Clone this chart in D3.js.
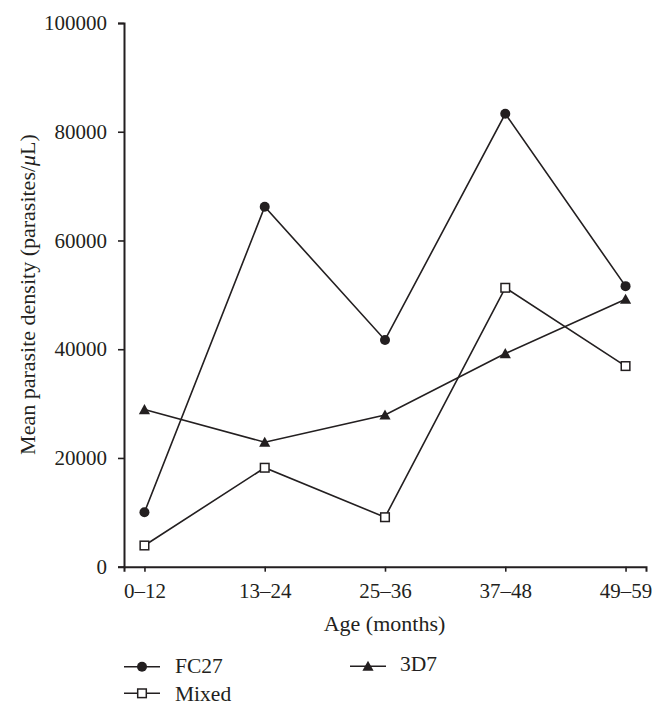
<!DOCTYPE html>
<html>
<head>
<meta charset="utf-8">
<script src="https://cdn.jsdelivr.net/npm/d3@7"></script>
<style>
  html, body { margin: 0; padding: 0; background: #fff; }
  svg { display: block; font-family: "Liberation Serif", "Times New Roman", serif; }
</style>
</head>
<body>
<svg id="chart" width="666" height="715"></svg>
<script>
const categories = ["0–12", "13–24", "25–36", "37–48", "49–59"];
const fc27 = [10000, 66200, 41700, 83300, 51600];
const mixed = [3900, 18200, 9100, 51300, 36900];
const d3d7 = [28900, 22900, 27900, 39200, 49200];
const yTicks = [0, 20000, 40000, 60000, 80000, 100000];
const seriesNames = ["FC27", "Mixed", "3D7"];

const ink = "#231f20";
const svg = d3.select("#chart");

const x = d3.scalePoint().domain(categories).range([124, 646]).padding(0.17);
const y = d3.scaleLinear().domain([0, 100000]).range([566.7, 23]);

// Y axis
const yAxis = svg.append("g").attr("transform", "translate(124,0)")
  .call(d3.axisLeft(y).tickValues(yTicks).tickFormat(d3.format("d")).tickSizeOuter(0).tickSize(6).tickPadding(11));
// X axis
const xAxis = svg.append("g").attr("transform", "translate(0,566.7)")
  .call(d3.axisBottom(x).tickSizeOuter(0).tickSize(5).tickPadding(11));

[yAxis, xAxis].forEach(g => {
  g.selectAll("path.domain").attr("stroke", ink).attr("stroke-width", 2);
  g.selectAll(".tick line").attr("stroke", ink).attr("stroke-width", 1.6);
  g.selectAll(".tick text").attr("fill", ink).style("font-size", "21px")
    .style("font-family", "'Liberation Serif', serif");
});

// Axis titles
svg.append("text")
  .attr("x", 384.5).attr("y", 631)
  .attr("text-anchor", "middle").attr("fill", ink)
  .style("font-size", "22px")
  .text("Age (months)");

const yt = svg.append("text")
  .attr("transform", "translate(35,294.5) rotate(-90)")
  .attr("text-anchor", "middle").attr("fill", ink)
  .style("font-size", "22px");
yt.append("tspan").text("Mean parasite density (parasites/");
yt.append("tspan").style("font-style", "italic").text("μ");
yt.append("tspan").text("L)");

// Series
const series = [
  { name: seriesNames[0], values: fc27, shape: "circle" },
  { name: seriesNames[1], values: mixed, shape: "square" },
  { name: seriesNames[2], values: d3d7, shape: "triangle" }
];

const line = d3.line().x((d, i) => x(categories[i])).y(d => y(d));

function drawMarker(g, shape, cx, cy) {
  if (shape === "circle") {
    g.append("circle").attr("cx", cx).attr("cy", cy).attr("r", 5).attr("fill", ink);
  } else if (shape === "square") {
    g.append("rect").attr("x", cx - 4.3).attr("y", cy - 4.3).attr("width", 8.6).attr("height", 8.6)
      .attr("fill", "#fff").attr("stroke", ink).attr("stroke-width", 1.5);
  } else {
    g.append("path")
      .attr("d", `M${cx},${cy - 5.5} L${cx + 5.6},${cy + 4.6} L${cx - 5.6},${cy + 4.6} Z`)
      .attr("fill", ink);
  }
}

series.forEach(s => {
  svg.append("path").datum(s.values).attr("d", line)
    .attr("fill", "none").attr("stroke", ink).attr("stroke-width", 1.6);
});
series.forEach(s => {
  const g = svg.append("g");
  s.values.forEach((v, i) => drawMarker(g, s.shape, x(categories[i]), y(v)));
});

// Legend
const legendItems = [
  { s: series[0], lx: 124, ly: 666.7, ty: 673.3 },
  { s: series[1], lx: 124, ly: 693.3, ty: 700.7 },
  { s: series[2], lx: 350, ly: 666.2, ty: 670.7 }
];
legendItems.forEach(it => {
  const g = svg.append("g");
  g.append("line").attr("x1", it.lx).attr("x2", it.lx + 36).attr("y1", it.ly).attr("y2", it.ly)
    .attr("stroke", ink).attr("stroke-width", 1.6);
  drawMarker(g, it.s.shape, it.lx + 18, it.ly);
  g.append("text").attr("x", it.lx + (it.s.shape === "triangle" ? 50 : 51)).attr("y", it.ty)
    .attr("fill", ink).style("font-size", "21.5px").text(it.s.name);
});
</script>
</body>
</html>
